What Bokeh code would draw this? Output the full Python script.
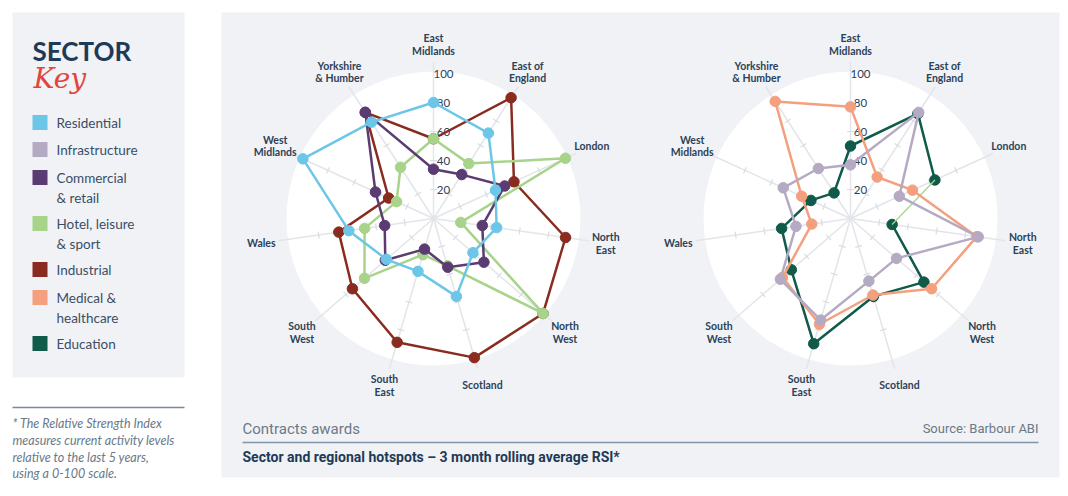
import numpy as np
from bokeh.plotting import figure
from bokeh.models import Range1d
from bokeh.embed import file_html
from bokeh.resources import INLINE
from bokeh.core.properties import value

# ---------------- data ----------------
regions = ["East\nMidlands", "East of\nEngland", "London", "North\nEast", "North\nWest",
           "Scotland", "South\nEast", "South\nWest", "Wales", "West\nMidlands", "Yorkshire\n& Humber"]

residential    = [80, 70, 47, 44, 36, 56, 38, 43, 59, 99, 79]
commercial     = [34, 36, 54, 34, 46, 35, 22, 44, 34, 44, 87]
hotel          = [55, 45, 100, 19, 100, 34, 26, 63, 48, 28, 42]
industrial     = [55, 99, 61, 92, 100, 100, 89, 74, 66, 34, 87]
infrastructure = [37, 87, 37, 89, 42, 45, 73, 64, 38, 51, 41]
medical        = [77, 34, 47, 88, 74, 55, 76, 62, 27, 37, 96]
education      = [50, 86, 64, 29, 67, 56, 90, 54, 48, 30, 21]

ticks = [20, 40, 60, 80, 100]

sectors = ["Residential", "Infrastructure", "Commercial\n& retail", "Hotel, leisure\n& sport",
           "Industrial", "Medical &\nhealthcare", "Education"]
colors = ["#6CC6E7", "#B5AAC3", "#5B3C72", "#A7D48A", "#8A2B1F", "#F4A07F", "#0F5A49"]

footnote = ["* The Relative Strength Index", "measures current activity levels",
            "relative to the last 5 years,", "using a 0-100 scale."]

# ---------------- helpers ----------------
W, H = 1060, 480
def X(xs):
    return xs
def Y(ys):
    return H - ys

NAVY = "#1E3A56"
LABEL = "#2C4258"
FONT = "Lato"

p = figure(width=W, height=H, x_range=Range1d(0, W), y_range=Range1d(0, H),
           output_backend="svg", toolbar_location=None, min_border=0,
           x_axis_location=None, y_axis_location=None)
p.grid.visible = False
p.outline_line_color = None
p.background_fill_color = "white"
p.border_fill_color = "white"

# panels
p.quad(left=[X(12)], right=[X(184)], top=[Y(12)], bottom=[Y(377)], fill_color="#F1F2F5", line_color=None)
p.quad(left=[X(221)], right=[X(1059)], top=[Y(12)], bottom=[Y(477)], fill_color="#F1F2F5", line_color=None)

# ---------------- sector key ----------------
p.text(x=[X(32)], y=[Y(50)], text=["SECTOR"], text_font=value("Lato"),
       text_font_style="bold", text_font_size="26px", text_color=NAVY, text_baseline="middle")
p.text(x=[X(33)], y=[Y(78)], text=["Key"], text_font=value("DejaVu Serif"),
       text_font_style="italic", text_font_size="28px", text_color="#E0463B", text_baseline="middle")

row_y = [122, 149, 177, 223, 269, 297, 343]
for lab, c, ry in zip(sectors, colors, row_y):
    p.rect(x=[X(39.5)], y=[Y(ry)], width=15, height=15, fill_color=c, line_color=None)
    for k, line in enumerate(lab.split("\n")):
        p.text(x=[X(56)], y=[Y(ry + 20 * k)], text=[line], text_font=value(FONT),
               text_font_size="13.5px", text_color="#3A4E66", text_baseline="middle")

# footnote
p.segment(x0=[X(12)], y0=[Y(407)], x1=[X(184)], y1=[Y(407)], line_color="#7D8996", line_width=1.5)
for k, line in enumerate(footnote):
    p.text(x=[X(12)], y=[Y(423 + 16.8 * k)], text=[line], text_font=value(FONT), text_font_style="italic",
           text_font_size="12.5px", text_color="#6A7888", text_baseline="middle")

# ---------------- radars ----------------
n = len(regions)
ang = np.arange(n) * 2 * np.pi / n
S = 1.45  # px per RSI unit

def radar_base(cx, cy):
    p.circle(x=[cx], y=[cy], radius=100 * S + 2, fill_color="white", line_color=None)
    ex = 108 * S
    p.segment(x0=[cx] * n, y0=[cy] * n, x1=list(cx + ex * np.sin(ang)), y1=list(cy + ex * np.cos(ang)),
              line_color="#E3E5EA", line_width=1.5)
    x0s, y0s, x1s, y1s = [], [], [], []
    for a in ang:
        for t in ticks[:-1]:
            px, py = cx + t * S * np.sin(a), cy + t * S * np.cos(a)
            dx, dy = 3.5 * np.cos(a), -3.5 * np.sin(a)
            x0s.append(px - dx); y0s.append(py - dy); x1s.append(px + dx); y1s.append(py + dy)
    p.segment(x0=x0s, y0=y0s, x1=x1s, y1=y1s, line_color="#D9DCE2", line_width=1.2)
    for t in ticks:
        p.text(x=[cx + 10], y=[cy + t * S], text=[str(t)], text_font=value(FONT), text_font_size="11.5px",
               text_color=LABEL, text_align="center", text_baseline="middle")
    R = 120 * S
    for a, lab in zip(ang, regions):
        lines = lab.split("\n")
        lx, ly = cx + R * np.sin(a), cy + R * np.cos(a)
        off = (len(lines) - 1) * 12.5 / 2
        for k, line in enumerate(lines):
            p.text(x=[lx], y=[ly + off - 12.5 * k], text=[line], text_font=value(FONT), text_font_style="bold",
                   text_font_size="10.5px", text_color=LABEL, text_align="center", text_baseline="middle")

def coords(cx, cy, vals):
    v = np.array(vals, dtype=float) * S
    return cx + v * np.sin(ang), cy + v * np.cos(ang)

def series(cx, cy, vals, color, skip=None):
    xs, ys = coords(cx, cy, vals)
    if skip is None:
        p.line(list(xs) + [xs[0]], list(ys) + [ys[0]], line_color=color, line_width=2.5)
    else:
        order = [(skip + 1 + i) % n for i in range(n)]
        p.line([xs[i] for i in order], [ys[i] for i in order], line_color=color, line_width=2.5)
    p.scatter(list(xs), list(ys), size=10.5, fill_color=color, line_color=color)

LCX, LCY = X(433), Y(218)
RCX, RCY = X(850), Y(218)

radar_base(LCX, LCY)
series(LCX, LCY, industrial, colors[4])
series(LCX, LCY, hotel, colors[3])
series(LCX, LCY, commercial, colors[2])
series(LCX, LCY, residential, colors[0])

radar_base(RCX, RCY)
series(RCX, RCY, education, colors[6], skip=2)
ex_, ey_ = coords(RCX, RCY, education)
p.line([ex_[2], ex_[3]], [ey_[2], ey_[3]], line_color=colors[3], line_width=1.3)
series(RCX, RCY, medical, colors[5])
series(RCX, RCY, infrastructure, colors[1])

# ---------------- bottom captions ----------------
p.text(x=[X(242)], y=[Y(428)], text=["Contracts awards"], text_font=value("Roboto"), text_font_size="15px",
       text_color="#6C7987", text_baseline="middle")
p.text(x=[X(1038)], y=[Y(428)], text=["Source: Barbour ABI"], text_font=value("Roboto"), text_font_size="13px",
       text_color="#6C7987", text_baseline="middle", text_align="right")
p.segment(x0=[X(242)], y0=[Y(442)], x1=[X(1038)], y1=[Y(442)], line_color="#8395A8", line_width=1.5)
p.text(x=[X(242)], y=[Y(456)], text=["Sector and regional hotspots \u2013 3 month rolling average RSI*"],
       text_font=value("Roboto"), text_font_style="bold", text_font_size="14px",
       text_color=NAVY, text_baseline="middle")

open("out.html", "w").write(file_html(p, INLINE))
